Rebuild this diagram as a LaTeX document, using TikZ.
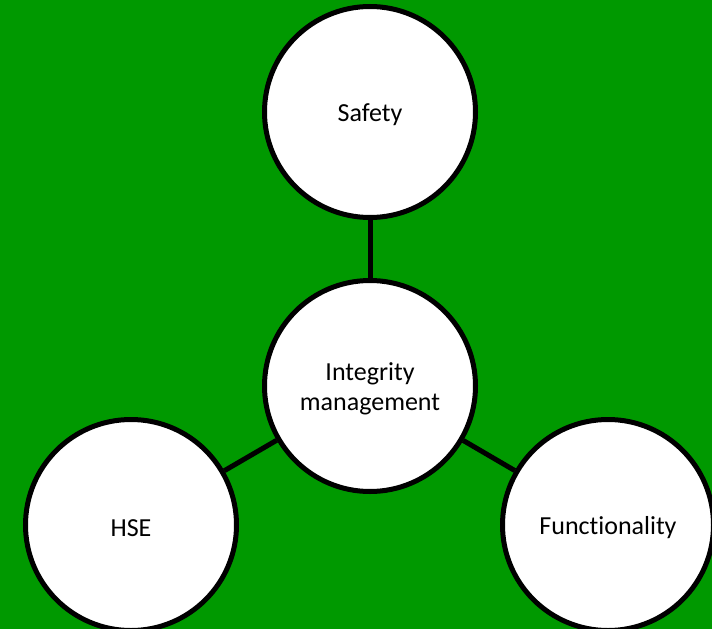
\documentclass[tikz,border=0pt]{standalone}
\usepackage{fontspec}
\setmainfont{Carlito}[Ligatures={NoCommon,NoContextual}]
\definecolor{bggreen}{RGB}{0,153,0}
\begin{document}
\begin{tikzpicture}[x=1pt,y=-1pt,
  bubble/.style={circle,draw=black,fill=white,line width=5pt,minimum size=211pt,inner sep=0pt},
  txt/.style={align=center,font=\fontsize{26}{30}\selectfont,yshift=-3pt},
  link/.style={draw=black,line width=5pt}]
\fill[bggreen] (0,0) rectangle (712,629);
\useasboundingbox (0,0) rectangle (712,629);
\node[bubble,label={[txt]center:Safety}] (safety) at (370,112) {};
\node[bubble,label={[txt]center:Integrity\\management}] (im) at (370,386) {};
\node[bubble,label={[txt]center:HSE}] (hse) at (131,525) {};
\node[bubble,label={[txt]center:Functionality}] (func) at (608,525) {};
\draw[link] (safety) -- (im);
\draw[link] (im) -- (hse);
\draw[link] (im) -- (func);
\end{tikzpicture}
\end{document}
